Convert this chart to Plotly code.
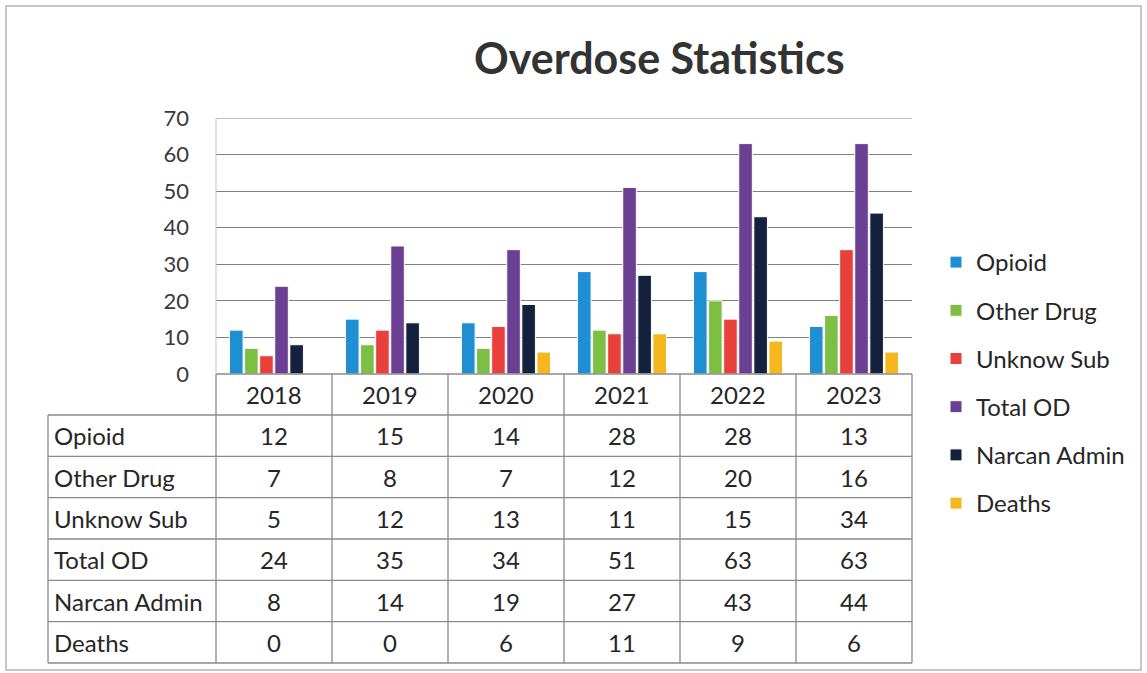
import plotly.graph_objects as go

# Overdose counts per year
years = ["2018", "2019", "2020", "2021", "2022", "2023"]
series_names = ["Opioid", "Other Drug", "Unknow Sub", "Total OD", "Narcan Admin", "Deaths"]
opioid = [12, 15, 14, 28, 28, 13]
other_drug = [7, 8, 7, 12, 20, 16]
unknow_sub = [5, 12, 13, 11, 15, 34]
total_od = [24, 35, 34, 51, 63, 63]
narcan_admin = [8, 14, 19, 27, 43, 44]
deaths = [0, 0, 6, 11, 9, 6]
y_ticks = [0, 10, 20, 30, 40, 50, 60, 70]

series_values = [opioid, other_drug, unknow_sub, total_od, narcan_admin, deaths]
colors = ["#1E8FD2", "#7DBF45", "#E8413C", "#6B3F92", "#14213D", "#F4B71E"]

W, H = 1147, 673
FONT = "Lato"
TXT = "#262626"
LINE = "#8a8a8a"
FS = 24


def px_x(x):
    return x / W


def px_y(y):
    return 1 - y / H


# plot area and table geometry (pixels)
PL, PR, PT, PB = 216, 912, 118, 374
TABLE_LEFT = 48
HEADER_BOTTOM = 415
ROW_H = (663 - HEADER_BOTTOM) / len(series_names)
TABLE_BOTTOM = HEADER_BOTTOM + ROW_H * len(series_names)

fig = go.Figure()
for name, vals, col in zip(series_names, series_values, colors):
    fig.add_trace(go.Bar(
        x=years, y=vals, name=name, legendgroup=name,
        marker=dict(color=col, line=dict(color="white", width=1)),
    ))

shapes = []
annotations = []

# outer border of the chart
shapes.append(dict(type="rect", xref="paper", yref="paper",
                   x0=px_x(6), x1=px_x(1141), y0=px_y(670), y1=px_y(6),
                   line=dict(color="#b5b5b5", width=1.5)))

# top gridline at 70
shapes.append(dict(type="line", xref="paper", yref="y",
                   x0=px_x(PL), x1=px_x(PR), y0=y_ticks[-1], y1=y_ticks[-1],
                   line=dict(color="#808080", width=1.2)))

# horizontal table lines
ys = [PB, HEADER_BOTTOM] + [HEADER_BOTTOM + ROW_H * (i + 1) for i in range(len(series_names))]
for i, y in enumerate(ys):
    x0 = PL if i == 0 else TABLE_LEFT
    shapes.append(dict(type="line", xref="paper", yref="paper",
                       x0=px_x(x0), x1=px_x(PR), y0=px_y(y), y1=px_y(y),
                       line=dict(color=LINE, width=1.3)))

# vertical table lines
col_w = (PR - PL) / len(years)
for k in range(len(years) + 1):
    x = PL + col_w * k
    shapes.append(dict(type="line", xref="paper", yref="paper",
                       x0=px_x(x), x1=px_x(x), y0=px_y(PB), y1=px_y(TABLE_BOTTOM),
                       line=dict(color=LINE, width=1.3)))
shapes.append(dict(type="line", xref="paper", yref="paper",
                   x0=px_x(TABLE_LEFT), x1=px_x(TABLE_LEFT),
                   y0=px_y(HEADER_BOTTOM), y1=px_y(TABLE_BOTTOM),
                   line=dict(color=LINE, width=1.3)))
# left edge of the plot area
shapes.append(dict(type="line", xref="paper", yref="paper",
                   x0=px_x(PL), x1=px_x(PL), y0=px_y(PB), y1=px_y(PT),
                   line=dict(color="#c8c8c8", width=1)))

# year header labels (category axes take the category index for annotations)
for j, yr in enumerate(years):
    annotations.append(dict(x=j, xref="x", y=px_y((PB + HEADER_BOTTOM) / 2), yref="paper",
                            text=yr, showarrow=False, xanchor="center", yanchor="middle",
                            font=dict(family=FONT, size=FS, color=TXT)))

# table rows
for i, (name, vals) in enumerate(zip(series_names, series_values)):
    yc = px_y(HEADER_BOTTOM + ROW_H * (i + 0.5))
    annotations.append(dict(x=px_x(TABLE_LEFT + 4), xref="paper", y=yc, yref="paper",
                            text=name, showarrow=False, xanchor="left", yanchor="middle",
                            font=dict(family=FONT, size=FS, color=TXT)))
    for j, v in enumerate(vals):
        annotations.append(dict(x=j, xref="x", y=yc, yref="paper",
                                text=str(v), showarrow=False, xanchor="center", yanchor="middle",
                                font=dict(family=FONT, size=FS, color=TXT)))

# title
annotations.append(dict(x=px_x(659), xref="paper", y=px_y(57), yref="paper",
                        text="<b>Overdose Statistics</b>", showarrow=False,
                        xanchor="center", yanchor="middle",
                        font=dict(family=FONT, size=43, color="#333333")))

fig.update_layout(
    width=W, height=H,
    margin=dict(l=0, r=0, t=0, b=0, autoexpand=False),
    paper_bgcolor="white", plot_bgcolor="white",
    barmode="group", bargap=0.22, bargroupgap=0.1,
    font=dict(family=FONT, size=FS, color=TXT),
    showlegend=True,
    legend=dict(x=px_x(936), y=px_y(240), xanchor="left", yanchor="top",
                font=dict(family=FONT, size=FS, color=TXT),
                tracegroupgap=14, bgcolor="rgba(0,0,0,0)"),
    xaxis=dict(type="category", domain=[px_x(PL), px_x(PR)], range=[-0.5, len(years) - 0.5],
               showticklabels=False, showgrid=False, zeroline=False, showline=False,
               fixedrange=True),
    yaxis=dict(domain=[px_y(PB), px_y(PT)], range=[0, 70], tickvals=y_ticks,
               showgrid=True, gridcolor="#808080", gridwidth=1.2, zeroline=False,
               showline=False, ticklabelstandoff=26,
               tickfont=dict(family=FONT, size=22, color="#3a3a3a")),
    shapes=shapes,
    annotations=annotations,
)

fig.write_html("out.html")
